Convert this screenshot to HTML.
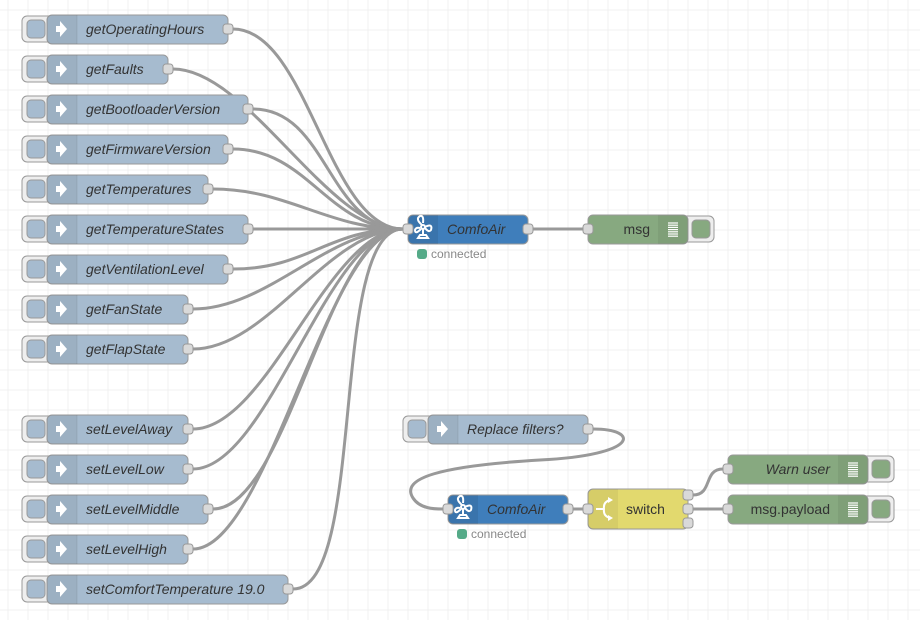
<!DOCTYPE html>
<html><head><meta charset="utf-8">
<style>
html,body{margin:0;padding:0;background:#fff;width:920px;height:620px;overflow:hidden}
svg text{font-family:"Liberation Sans",Arial,sans-serif;font-size:14px;fill:#333}
</style></head><body>
<svg id="s" width="920" height="620" xmlns="http://www.w3.org/2000/svg"></svg>
<script>
var s=document.getElementById('s'),h='';
for(var x=8;x<920;x+=20)h+='<line x1="'+x+'" y1="0" x2="'+x+'" y2="620" stroke="#f0f0f0" stroke-width="1"/>';
for(var y=10;y<620;y+=20)h+='<line x1="0" y1="'+y+'" x2="920" y2="'+y+'" stroke="#f0f0f0" stroke-width="1"/>';
var injects=[["getOperatingHours",228,29],["getFaults",168,69],["getBootloaderVersion",248,109],["getFirmwareVersion",228,149],["getTemperatures",208,189],["getTemperatureStates",248,229],["getVentilationLevel",228,269],["getFanState",188,309],["getFlapState",188,349],["setLevelAway",188,429],["setLevelLow",188,469],["setLevelMiddle",208,509],["setLevelHigh",188,549],["setComfortTemperature 19.0",288,589]];
function wire(x1,y1,x2,y2){var d=75;return '<path d="M'+x1+','+y1+' C'+(x1+d)+','+y1+' '+(x2-d)+','+y2+' '+x2+','+y2+'" fill="none" stroke="#999" stroke-width="3"/>';}
var w='';
injects.forEach(function(n){w+=wire(n[1]+5,n[2],403,229);});
w+=wire(533,229,583,229);
w+='<path d="M593,429 C640,429 640,455 540,460 C440,466 400,478 413,498 C420,509 435,509 443,509" fill="none" stroke="#999" stroke-width="3"/>';
w+=wire(573,509,583,509);
w+='<path d="M693,495 C713,495 703,469 723,469" fill="none" stroke="#999" stroke-width="3"/>';
w+=wire(693,509,723,509);
h+=w;
function port(x,y){return '<rect x="'+(x-5)+'" y="'+(y-5)+'" width="10" height="10" rx="3" fill="#d9d9d9" stroke="#999" stroke-width="1"/>';}
function arrow(x,y){return '<path d="M'+(x-5)+','+(y-3)+' h4 v-5 l7,8 l-7,8 v-5 h-4 z" fill="#fff"/>';}
function inject(lbl,x1,x2,cy){var y=cy-14,o='';
o+='<rect x="'+(x1-25)+'" y="'+(y+1)+'" width="32" height="26" rx="5" fill="#eee" stroke="#999"/>';
o+='<rect x="'+(x1-20)+'" y="'+(y+5)+'" width="18" height="18" rx="4" fill="#a6bbcf" stroke="#999"/>';
o+='<rect x="'+x1+'" y="'+y+'" width="'+(x2-x1)+'" height="29" rx="5" fill="#a6bbcf" stroke="#999"/>';
o+='<path d="M'+(x1+5)+','+y+' h25 v29 h-25 a5,5 0 0 1 -5,-5 v-19 a5,5 0 0 1 5,-5z" fill="#000" fill-opacity="0.06"/>';
o+='<line x1="'+(x1+30)+'" y1="'+y+'" x2="'+(x1+30)+'" y2="'+(y+29)+'" stroke="#000" stroke-opacity="0.08"/>';
o+=arrow(x1+14,cy);
o+='<text x="'+(x1+39)+'" y="'+(cy+5)+'" font-style="italic">'+lbl+'</text>';
o+=port(x2,cy);return o;}
injects.forEach(function(n){h+=inject(n[0],47,n[1],n[2]);});
h+=inject("Replace filters?",428,588,429);
function fan(x,y){return '<g fill="none" stroke="#fff" stroke-width="2"><circle cx="'+x+'" cy="'+(y-2)+'" r="2"/><path d="M'+(x-1)+','+(y-4)+' q-7,-6 -2,-9 q4,-1 3,7 M'+(x+2)+','+(y-2)+' q8,-4 6,3 q-2,3 -6,-2 M'+(x-2)+','+(y)+' q-6,6 -6,1 q1,-3 5,-2 M'+x+','+y+' v6 M'+(x-5)+','+(y+9)+' h10 l-2,-3 h-6z"/></g>';}
function comfo(x1,cy){var y=cy-14,o='';
o+='<rect x="'+x1+'" y="'+y+'" width="120" height="29" rx="5" fill="#3f7ebb" stroke="#999"/>';
o+='<path d="M'+(x1+5)+','+y+' h25 v29 h-25 a5,5 0 0 1 -5,-5 v-19 a5,5 0 0 1 5,-5z" fill="#000" fill-opacity="0.08"/>';
o+=fan(x1+15,cy);
o+='<text x="'+(x1+39)+'" y="'+(cy+5)+'" font-style="italic">ComfoAir</text>';
o+=port(x1,cy)+port(x1+120,cy);
o+='<rect x="'+(x1+9)+'" y="'+(cy+20)+'" width="10" height="10" rx="3" fill="#5a8"/>';
o+='<text x="'+(x1+23)+'" y="'+(cy+29)+'" style="font-size:12px;fill:#888">connected</text>';return o;}
h+=comfo(408,229);h+=comfo(448,509);
function debug(lbl,x1,x2,cy,it){var y=cy-14,o='';
o+='<rect x="'+(x2-6)+'" y="'+(y+1)+'" width="32" height="26" rx="5" fill="#eee" stroke="#999"/>';
o+='<rect x="'+(x2+4)+'" y="'+(y+5)+'" width="18" height="18" rx="4" fill="#87a980" stroke="#999"/>';
o+='<rect x="'+x1+'" y="'+y+'" width="'+(x2-x1)+'" height="29" rx="5" fill="#87a980" stroke="#999"/>';
o+='<path d="M'+(x2-30)+','+y+' h25 a5,5 0 0 1 5,5 v19 a5,5 0 0 1 -5,5 h-25z" fill="#000" fill-opacity="0.06"/>';
for(var i=0;i<7;i++)o+='<line x1="'+(x2-20)+'" x2="'+(x2-10)+'" y1="'+(y+8+i*2.2)+'" y2="'+(y+8+i*2.2)+'" stroke="#fff" stroke-width="1.2"/>';
o+='<text x="'+(x2-38)+'" y="'+(cy+5)+'" text-anchor="end"'+(it?' font-style="italic"':'')+'>'+lbl+'</text>';
o+=port(x1,cy);return o;}
h+=debug("msg",588,688,229,0);
h+=debug("Warn user",728,868,469,1);
h+=debug("msg.payload",728,868,509,0);
var sy=489;
h+='<rect x="588" y="'+sy+'" width="100" height="40" rx="5" fill="#e2d96e" stroke="#999"/>';
h+='<path d="M593,'+sy+' h25 v40 h-25 a5,5 0 0 1 -5,-5 v-30 a5,5 0 0 1 5,-5z" fill="#000" fill-opacity="0.05"/>';
h+='<path d="M596,509 h8 M610,500 q-7,2 -6,9 q-1,7 6,9" fill="none" stroke="#fff" stroke-width="2"/><path d="M608,497 l5,3 l-5,3z M608,515 l5,3 l-5,3z" fill="#fff"/>';
h+='<text x="626" y="514">switch</text>';
h+=port(588,509)+port(688,495)+port(688,509)+port(688,523);
s.innerHTML=h;
</script>
</body></html>
